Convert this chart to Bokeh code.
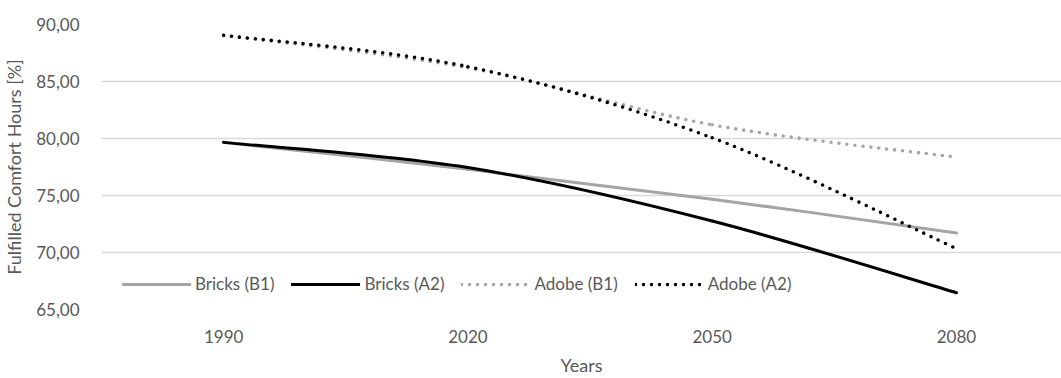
from bokeh.plotting import figure
from bokeh.models import Range1d, FixedTicker, Legend, LegendItem, CustomJSTickFormatter
from bokeh.embed import file_html
from bokeh.resources import INLINE

# --- data -------------------------------------------------------------
years = ["1990", "2020", "2050", "2080"]
bricks_b1 = [79.66, 77.30, 74.68, 71.72]
bricks_a2 = [79.66, 77.45, 72.76, 66.47]
adobe_b1 = [89.05, 86.20, 81.20, 78.36]
adobe_a2 = [89.05, 86.30, 80.06, 70.34]
y_ticks = [65, 70, 75, 80, 85, 90]

FONT = "Lato"
TEXT = "#595959"
GRID = "#D9D9D9"
GREY = "#A5A5A5"


def smooth_segments(ys):
    """Cubic Bezier pieces passing through each point (category centres),
    with tangents taken from the neighbouring points."""
    xs = [i + 0.5 for i in range(len(ys))]
    n = len(xs)
    seg = dict(x0=[], y0=[], x1=[], y1=[], cx0=[], cy0=[], cx1=[], cy1=[])
    for i in range(n - 1):
        a = max(i - 1, 0)
        b = min(i + 2, n - 1)
        seg["x0"].append(xs[i])
        seg["y0"].append(ys[i])
        seg["x1"].append(xs[i + 1])
        seg["y1"].append(ys[i + 1])
        seg["cx0"].append(xs[i] + (xs[i + 1] - xs[a]) / 6)
        seg["cy0"].append(ys[i] + (ys[i + 1] - ys[a]) / 6)
        seg["cx1"].append(xs[i + 1] - (xs[b] - xs[i]) / 6)
        seg["cy1"].append(ys[i + 1] - (ys[b] - ys[i]) / 6)
    return seg


p = figure(
    width=1061, height=378,
    x_range=Range1d(0, 3.93), y_range=Range1d(65, 90),
    output_backend="svg", toolbar_location=None,
    min_border_left=98, min_border_right=0,
    min_border_top=24, min_border_bottom=64,
)
p.outline_line_color = None
p.background_fill_color = "white"
p.border_fill_color = "white"

series = [
    ("Bricks (B1)", bricks_b1, GREY, None),
    ("Bricks (A2)", bricks_a2, "black", None),
    ("Adobe (B1)", adobe_b1, GREY, "0 8"),
    ("Adobe (A2)", adobe_a2, "black", "0 8"),
]

items = []
for name, vals, color, dash in series:
    kw = dict(line_color=color, line_width=3, line_cap="round")
    if dash:
        kw["line_dash"] = dash
        kw["line_width"] = 3.6
    r = p.bezier(source=smooth_segments(vals), x0="x0", y0="y0", x1="x1", y1="y1",
                 cx0="cx0", cy0="cy0", cx1="cx1", cy1="cy1", **kw)
    items.append(LegendItem(label=name, renderers=[r]))

legend = Legend(
    items=items, orientation="horizontal", location=(21, 15),
    padding=0, margin=0, spacing=17, glyph_width=69, glyph_height=20,
    label_standoff=4, label_height=20,
    label_text_font=FONT, label_text_font_size="17px", label_text_color=TEXT,
    background_fill_alpha=0, border_line_alpha=0,
)
p.add_layout(legend, "center")

# axes
p.xaxis.ticker = FixedTicker(ticks=[i + 0.5 for i in range(len(years))])
p.xaxis.formatter = CustomJSTickFormatter(
    args=dict(labels=years), code="return labels[Math.round(tick - 0.5)];")
p.yaxis.ticker = FixedTicker(ticks=y_ticks)
p.yaxis.formatter = CustomJSTickFormatter(
    code="return tick.toFixed(2).replace('.', ',');")

for ax in (p.xaxis[0], p.yaxis[0]):
    ax.axis_line_color = None
    ax.major_tick_line_color = None
    ax.minor_tick_line_color = None
    ax.major_label_text_font = FONT
    ax.major_label_text_font_size = "17px"
    ax.major_label_text_color = TEXT
    ax.axis_label_text_font = FONT
    ax.axis_label_text_font_size = "18px"
    ax.axis_label_text_font_style = "normal"
    ax.axis_label_text_color = TEXT

p.xaxis.axis_label = "Years"
p.yaxis.axis_label = "Fulfilled Comfort Hours [%]"
p.xaxis.major_label_standoff = 14
p.xaxis.axis_label_standoff = 8
p.yaxis.major_label_standoff = 16
p.yaxis.axis_label_standoff = 8

p.xgrid.grid_line_color = None
p.ygrid.grid_line_color = GRID
p.ygrid.grid_line_width = 1.4

open("out.html", "w").write(file_html(p, INLINE))
